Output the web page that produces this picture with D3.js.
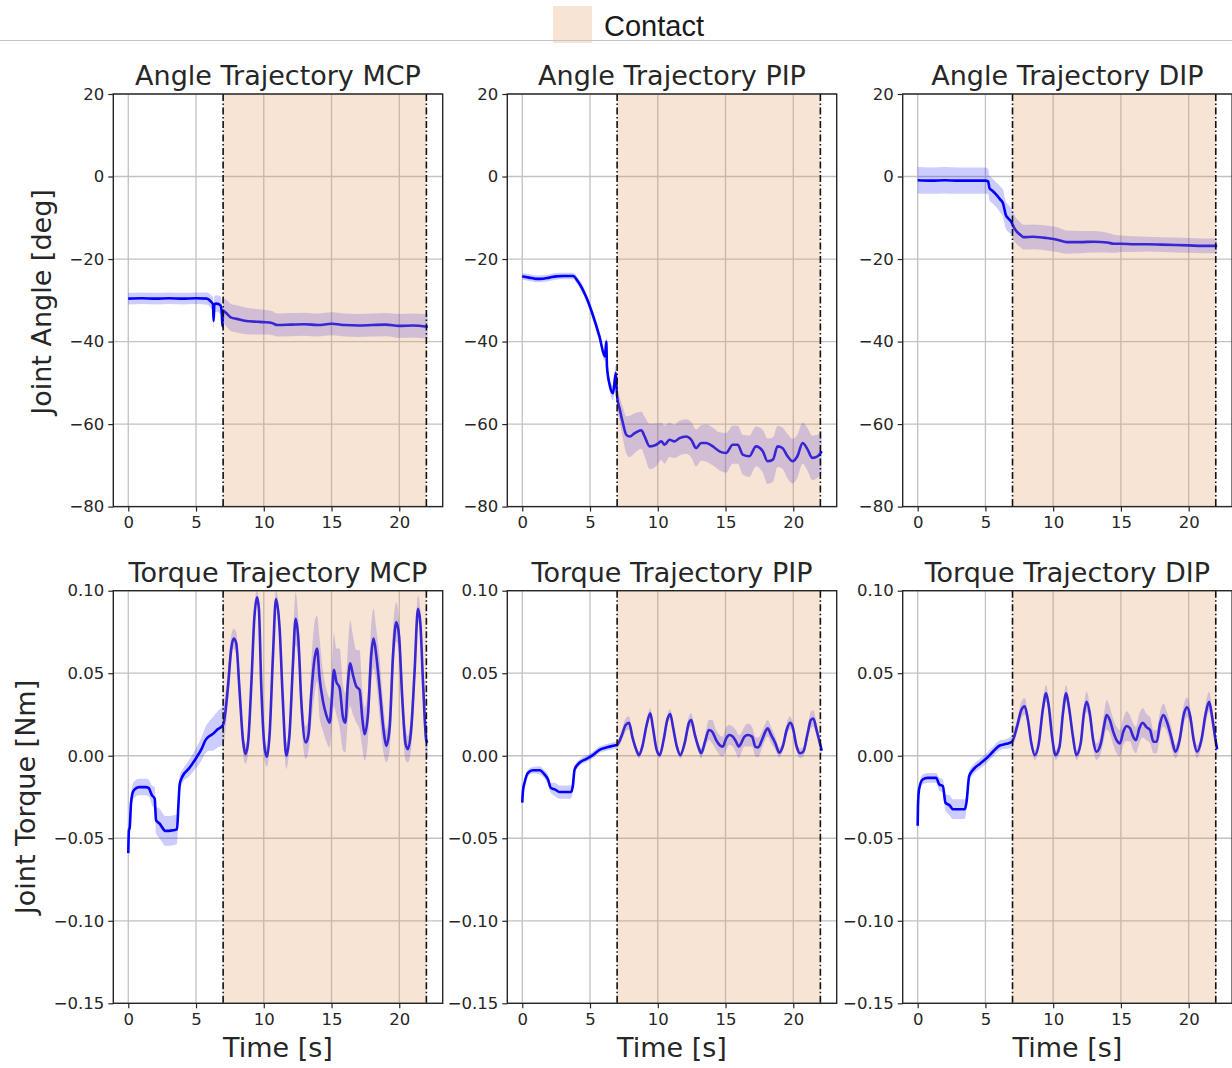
<!DOCTYPE html>
<html>
<head>
<meta charset="utf-8">
<script src="https://cdn.jsdelivr.net/npm/d3@7"></script>
<style>
  html, body { margin: 0; padding: 0; background: #fff; }
  svg { display: block; }
  text { font-family: "DejaVu Sans", sans-serif; fill: #262626; }
</style>
</head>
<body>
<svg id="fig" width="1232" height="1068"></svg>
<script>
// ---------------- data ----------------
// Joint angle, MCP (deg)
const tAngleMCP = [0, 1, 2, 3, 4, 5, 5.8, 6.1, 6.25, 6.3, 6.35, 6.5, 6.8, 6.9, 6.95, 7.0, 7.2, 7.6, 8.0, 8.7, 9.5, 10.0, 10.6, 11.0, 12.0, 13.0, 14.0, 15.0, 16.0, 17.0, 18.0, 19.0, 20.0, 21.0, 22.1];
const meanAngleMCP = [-29.6, -29.5, -29.6, -29.5, -29.6, -29.5, -29.6, -30.3, -31.0, -35.0, -31.0, -30.8, -31.2, -33.0, -36.3, -32.5, -33.0, -34.2, -34.5, -35.0, -35.2, -35.3, -35.5, -36.0, -35.9, -35.8, -36.0, -35.7, -36.0, -36.1, -36.0, -35.9, -36.2, -36.1, -36.4];
const sdAngleMCP = [1.4, 1.4, 1.4, 1.4, 1.4, 1.4, 1.5, 1.6, 1.8, 2.0, 2.0, 2.0, 2.2, 2.4, 2.8, 3.0, 3.2, 3.3, 3.3, 3.2, 3.1, 3.0, 2.9, 2.8, 2.8, 2.8, 2.8, 2.8, 2.8, 2.8, 2.8, 2.8, 2.9, 2.9, 3.0];

// Joint angle, PIP (deg)
const tAnglePIP = [0, 0.5, 1.0, 1.3, 2.0, 2.5, 3.0, 3.75, 4.1, 4.7, 5.2, 5.7, 6.1, 6.2, 6.25, 6.45, 6.7, 6.9, 7.0, 7.2, 7.43, 7.68, 7.93, 8.3, 8.79, 9.03, 9.4, 9.89, 10.26, 10.5, 10.87, 11.24, 11.6, 12.1, 12.47, 12.83, 13.2, 13.57, 14.06, 14.55, 15.04, 15.53, 15.9, 16.27, 16.76, 17.25, 17.75, 18.1, 18.5, 18.84, 19.2, 19.58, 19.95, 20.3, 20.69, 21.06, 21.4, 21.8, 22.1];
const meanAnglePIP = [-24.2, -24.5, -24.8, -24.8, -24.5, -24.2, -24.1, -24.1, -25.4, -29.1, -33.5, -38.8, -43.6, -40.0, -46.0, -50.5, -52.5, -47.6, -53.3, -56.5, -59.8, -62.6, -63.0, -62.2, -61.5, -63.0, -65.4, -65.0, -64.2, -65.0, -63.8, -64.2, -63.4, -63.0, -63.8, -65.8, -64.6, -64.6, -65.4, -66.6, -67.0, -65.0, -65.0, -67.4, -67.8, -65.4, -66.6, -69.0, -68.6, -65.4, -65.8, -67.8, -69.0, -67.8, -64.6, -66.2, -68.2, -67.8, -66.6];
const sdAnglePIP = [0.8, 0.8, 0.8, 0.8, 0.8, 0.8, 0.8, 0.8, 0.9, 1.0, 1.0, 1.1, 1.2, 1.2, 1.3, 1.5, 1.8, 2.0, 2.3, 3.0, 3.8, 4.5, 5.0, 4.8, 4.5, 4.8, 5.5, 5.2, 4.5, 4.6, 4.2, 4.0, 4.2, 4.2, 4.3, 4.5, 4.3, 4.5, 4.6, 4.6, 4.8, 4.6, 4.6, 4.8, 5.0, 4.8, 5.2, 5.5, 5.4, 5.0, 5.0, 5.4, 5.4, 5.2, 5.0, 5.2, 5.4, 5.2, 5.2];

// Joint angle, DIP (deg)
const tAngleDIP = [0, 1, 2, 3, 4, 5.0, 5.2, 5.3, 5.5, 5.8, 6.1, 6.3, 6.5, 6.7, 6.9, 7.1, 7.3, 7.6, 7.8, 8.5, 9.0, 9.5, 10.3, 11.0, 12.0, 13.0, 14.0, 14.5, 15.0, 16.0, 17.0, 18.0, 19.0, 20.0, 21.0, 22.1];
const meanAngleDIP = [-0.9, -1.0, -0.9, -1.0, -1.0, -1.0, -1.2, -2.8, -3.4, -4.4, -5.6, -6.5, -9.3, -10.2, -10.9, -12.3, -13.3, -14.2, -14.7, -14.6, -14.7, -14.9, -15.3, -15.9, -15.9, -15.8, -16.0, -16.3, -16.3, -16.4, -16.4, -16.5, -16.6, -16.7, -16.8, -16.8];
const sdAngleDIP = [3.2, 3.2, 3.2, 3.2, 3.2, 3.2, 3.0, 3.0, 3.0, 3.0, 3.2, 3.3, 3.3, 3.3, 3.2, 3.2, 3.1, 3.0, 3.0, 3.0, 3.0, 3.0, 3.0, 2.8, 2.7, 2.6, 2.4, 2.2, 2.0, 1.9, 1.8, 1.8, 1.8, 1.8, 1.8, 1.8];

// Joint torque, MCP (Nm)
const tTorqueMCP = [0, 0.05, 0.1, 0.2, 0.3, 0.45, 0.8, 1.3, 1.5, 1.75, 1.95, 2.05, 2.3, 2.55, 2.7, 3.0, 3.3, 3.6, 3.7, 3.8, 4.0, 4.5, 5.0, 5.4, 5.7, 6.0, 6.2, 6.6, 7.0,
  7.35, 7.6, 7.78, 7.97, 8.2, 8.47, 8.64, 8.83, 9.08, 9.3, 9.5, 9.64, 9.82, 10.06, 10.24, 10.43, 10.68, 10.9, 11.17, 11.4, 11.66, 11.9, 12.15, 12.35, 12.55, 12.77, 13.1, 13.3, 13.5, 13.75, 13.93, 14.12, 14.37, 14.6, 14.86, 15.03, 15.18, 15.35, 15.6, 15.85, 16.02, 16.2, 16.38, 16.58, 16.83, 17.07, 17.27, 17.44, 17.69, 17.93, 18.1, 18.3, 18.55, 18.85, 19.04, 19.29, 19.54, 19.78, 19.98, 20.22, 20.47, 20.64, 20.89, 21.13, 21.38, 21.55, 21.75, 22.0, 22.1];
const meanTorqueMCP = [-0.059, -0.045, -0.044, -0.029, -0.023, -0.0205, -0.019, -0.019, -0.0195, -0.024, -0.026, -0.039, -0.041, -0.044, -0.0455, -0.0455, -0.0452, -0.0445, -0.030, -0.017, -0.0125, -0.0075, -0.0015, 0.004, 0.0095, 0.012, 0.013, 0.016, 0.0187,
  0.041, 0.065, 0.071, 0.068, 0.041, 0.009, 0.001, 0.007, 0.043, 0.083, 0.096, 0.089, 0.041, 0.005, -0.0006, 0.013, 0.061, 0.095, 0.077, 0.035, 0.000, 0.013, 0.055, 0.083, 0.071, 0.033, 0.008, 0.013, 0.037, 0.059, 0.065, 0.047, 0.033, 0.025, 0.020, 0.035, 0.052, 0.045, 0.041, 0.023, 0.020, 0.043, 0.056, 0.049, 0.042, 0.040, 0.023, 0.013, 0.025, 0.061, 0.071, 0.061, 0.041, 0.015, 0.006, 0.017, 0.061, 0.081, 0.073, 0.035, 0.007, 0.004, 0.017, 0.051, 0.089, 0.081, 0.045, 0.009, 0.008];
const sdTorqueMCP = [0.003, 0.003, 0.004, 0.004, 0.005, 0.005, 0.005, 0.005, 0.005, 0.006, 0.007, 0.008, 0.009, 0.009, 0.009, 0.009, 0.009, 0.009, 0.007, 0.005, 0.004, 0.005, 0.006, 0.007, 0.008, 0.009, 0.010, 0.011, 0.012,
  0.010, 0.008, 0.006, 0.007, 0.010, 0.008, 0.006, 0.007, 0.010, 0.008, 0.004, 0.006, 0.010, 0.008, 0.006, 0.008, 0.012, 0.005, 0.008, 0.012, 0.008, 0.008, 0.014, 0.016, 0.012, 0.012, 0.010, 0.010, 0.018, 0.022, 0.020, 0.024, 0.018, 0.016, 0.015, 0.018, 0.022, 0.020, 0.024, 0.020, 0.018, 0.022, 0.026, 0.024, 0.022, 0.024, 0.018, 0.016, 0.016, 0.018, 0.018, 0.016, 0.018, 0.014, 0.010, 0.014, 0.016, 0.012, 0.010, 0.014, 0.010, 0.008, 0.012, 0.012, 0.008, 0.008, 0.012, 0.010, 0.010];

// Joint torque, PIP (Nm)
const tTorquePIP = [0, 0.05, 0.17, 0.42, 0.79, 1.28, 1.65, 1.9, 2.1, 2.4, 2.75, 3.2, 3.6, 3.73, 3.86, 4.2, 4.7, 5.2, 5.7, 6.2, 6.7, 7.0,
  7.31, 7.63, 7.88, 8.12, 8.42, 8.61, 8.86, 9.15, 9.45, 9.65, 9.89, 10.14, 10.43, 10.7, 10.92, 11.12, 11.41, 11.66, 11.98, 12.3, 12.47, 12.71, 13.03, 13.2, 13.52, 13.77, 14.01, 14.31, 14.56, 14.8, 15.05, 15.29, 15.54, 15.78, 15.98, 16.15, 16.4, 16.64, 16.96, 17.2, 17.4, 17.69, 17.94, 18.11, 18.36, 18.68, 18.97, 19.22, 19.51, 19.76, 19.95, 20.25, 20.49, 20.74, 21.06, 21.3, 21.48, 21.72, 22.1];
const meanTorquePIP = [-0.0284, -0.0214, -0.0164, -0.0104, -0.0088, -0.0088, -0.0114, -0.0144, -0.0194, -0.0204, -0.022, -0.022, -0.022, -0.0184, -0.0084, -0.0044, -0.002, 0.0004, 0.0036, 0.005, 0.006, 0.0066,
  0.0116, 0.0186, 0.020, 0.0116, 0.0035, 0.0004, 0.0055, 0.0176, 0.0257, 0.0166, 0.0045, 0.0004, 0.0095, 0.0217, 0.0253, 0.0176, 0.0055, 0.0004, 0.0075, 0.020, 0.0217, 0.0136, 0.0045, 0.0015, 0.0095, 0.0156, 0.0146, 0.0095, 0.0065, 0.0055, 0.0105, 0.0126, 0.0116, 0.0085, 0.0055, 0.0075, 0.0116, 0.0126, 0.0116, 0.0055, 0.005, 0.0095, 0.0146, 0.0166, 0.0126, 0.0075, 0.0019, 0.0055, 0.0156, 0.020, 0.0176, 0.0055, 0.0015, 0.0025, 0.0136, 0.0217, 0.0226, 0.0156, 0.003];
const sdTorquePIP = [0.002, 0.002, 0.002, 0.002, 0.002, 0.0025, 0.0025, 0.003, 0.003, 0.004, 0.004, 0.004, 0.004, 0.003, 0.002, 0.002, 0.002, 0.002, 0.002, 0.002, 0.002, 0.002,
  0.003, 0.004, 0.004, 0.003, 0.002, 0.002, 0.003, 0.003, 0.003, 0.003, 0.002, 0.002, 0.003, 0.003, 0.003, 0.003, 0.002, 0.002, 0.003, 0.004, 0.004, 0.003, 0.003, 0.003, 0.004, 0.006, 0.007, 0.006, 0.006, 0.006, 0.007, 0.006, 0.006, 0.007, 0.007, 0.006, 0.006, 0.007, 0.006, 0.006, 0.006, 0.005, 0.005, 0.005, 0.005, 0.004, 0.003, 0.003, 0.004, 0.004, 0.003, 0.003, 0.003, 0.003, 0.004, 0.005, 0.005, 0.004, 0.003];

// Joint torque, DIP (Nm)
const tTorqueDIP = [0, 0.02, 0.1, 0.37, 0.74, 1.36, 1.6, 1.86, 2.05, 2.35, 2.6, 3.0, 3.47, 3.6, 3.8, 4.1, 4.6, 5.1, 5.57, 6.06, 6.56, 6.96,
  7.33, 7.65, 7.9, 8.14, 8.39, 8.64, 8.94, 9.23, 9.48, 9.68, 9.92, 10.17, 10.47, 10.72, 10.96, 11.16, 11.46, 11.71, 12.03, 12.27, 12.47, 12.7, 12.95, 13.19, 13.52, 13.77, 13.94, 14.18, 14.43, 14.68, 14.93, 15.18, 15.42, 15.67, 15.91, 16.11, 16.36, 16.6, 16.9, 17.15, 17.4, 17.64, 17.89, 18.14, 18.39, 18.71, 19.03, 19.33, 19.63, 19.88, 20.12, 20.37, 20.62, 20.94, 21.26, 21.51, 21.73, 21.98, 22.1];
const meanTorqueDIP = [-0.0424, -0.0314, -0.0204, -0.0144, -0.0134, -0.0134, -0.0174, -0.0184, -0.0284, -0.030, -0.0324, -0.0324, -0.0324, -0.0284, -0.0124, -0.0084, -0.0048, -0.0014, 0.0026, 0.0062, 0.0072, 0.0085,
  0.0176, 0.0277, 0.030, 0.0216, 0.0075, 0.0004, 0.0075, 0.0277, 0.0378, 0.0297, 0.0115, 0.0004, 0.0055, 0.0257, 0.0378, 0.0297, 0.0115, 0.0004, 0.0075, 0.0257, 0.0327, 0.0257, 0.0095, 0.0024, 0.0075, 0.0186, 0.0247, 0.0216, 0.0146, 0.0095, 0.0075, 0.0146, 0.018, 0.0166, 0.0115, 0.0095, 0.0166, 0.020, 0.0172, 0.0156, 0.0085, 0.0085, 0.0196, 0.0247, 0.0206, 0.0115, 0.0024, 0.0095, 0.0247, 0.0293, 0.0236, 0.0095, 0.0024, 0.0095, 0.0257, 0.0327, 0.0236, 0.0095, 0.004];
const sdTorqueDIP = [0.002, 0.002, 0.002, 0.003, 0.003, 0.003, 0.004, 0.004, 0.005, 0.006, 0.006, 0.006, 0.006, 0.005, 0.003, 0.003, 0.003, 0.003, 0.003, 0.003, 0.003, 0.004,
  0.004, 0.005, 0.005, 0.004, 0.003, 0.003, 0.004, 0.005, 0.005, 0.004, 0.003, 0.003, 0.004, 0.005, 0.005, 0.004, 0.003, 0.003, 0.004, 0.005, 0.006, 0.005, 0.005, 0.005, 0.006, 0.008, 0.009, 0.008, 0.008, 0.008, 0.008, 0.008, 0.009, 0.008, 0.008, 0.008, 0.009, 0.009, 0.008, 0.008, 0.007, 0.007, 0.007, 0.007, 0.006, 0.006, 0.004, 0.005, 0.006, 0.006, 0.005, 0.004, 0.004, 0.004, 0.006, 0.006, 0.005, 0.004, 0.004];

// contact window (s)
const contactStart = 7.0;
const contactEnd = 22.0;

// axis ticks
const timeTicks = [0, 5, 10, 15, 20];
const angleTicks = [-80, -60, -40, -20, 0, 20];
const torqueTicks = [-0.15, -0.10, -0.05, 0.00, 0.05, 0.10];

const joints = ["MCP", "PIP", "DIP"];

// ---------------- layout ----------------
const svg = d3.select("#fig");
const panelLeft = [113.3, 507.3, 902.7];
const panelW = 329.4;
const panelH = 412.6;
const rowTop = [94, 590.7];

const CONTACT_RGB = "rgb(223,147,83)";
const CONTACT_ALPHA = 0.25;

const rows = [
  {
    kind: "Angle", domain: [-80, 20], ticks: angleTicks, fmt: d3.format("d"),
    series: [
      [tAngleMCP, meanAngleMCP, sdAngleMCP],
      [tAnglePIP, meanAnglePIP, sdAnglePIP],
      [tAngleDIP, meanAngleDIP, sdAngleDIP]
    ]
  },
  {
    kind: "Torque", domain: [-0.15, 0.10], ticks: torqueTicks, fmt: d3.format(".2f"),
    series: [
      [tTorqueMCP, meanTorqueMCP, sdTorqueMCP],
      [tTorquePIP, meanTorquePIP, sdTorquePIP],
      [tTorqueDIP, meanTorqueDIP, sdTorqueDIP]
    ]
  }
];

const x = d3.scaleLinear().domain([-1.105, 23.205]).range([0, panelW]);

rows.forEach((row, r) => {
  const y = d3.scaleLinear().domain(row.domain).range([panelH, 0]);
  row.series.forEach(([ts, ms, ss], c) => {
    const g = svg.append("g")
      .attr("transform", `translate(${panelLeft[c]},${rowTop[r]})`);
    const pts = ts.map((t, i) => ({ t, m: ms[i], s: ss[i] }));

    const clipId = `clip-${r}-${c}`;
    g.append("clipPath").attr("id", clipId)
      .append("rect").attr("width", panelW).attr("height", panelH);

    // grid
    const grid = g.append("g").attr("stroke", "#c2c2c2").attr("stroke-width", 1.3);
    grid.selectAll("line.vx").data(timeTicks).join("line")
      .attr("x1", d => x(d)).attr("x2", d => x(d))
      .attr("y1", 0).attr("y2", panelH);
    grid.selectAll("line.hy").data(row.ticks).join("line")
      .attr("x1", 0).attr("x2", panelW)
      .attr("y1", d => y(d)).attr("y2", d => y(d));

    const plot = g.append("g").attr("clip-path", `url(#${clipId})`);

    // std band
    plot.append("path")
      .datum(pts)
      .attr("fill", "blue").attr("fill-opacity", 0.2)
      .attr("d", d3.area().curve(d3.curveMonotoneX)
        .x(d => x(d.t)).y0(d => y(d.m - d.s)).y1(d => y(d.m + d.s)));

    // mean trajectory
    plot.append("path")
      .datum(pts)
      .attr("fill", "none").attr("stroke", "#0000ff")
      .attr("stroke-width", 2.6).attr("stroke-linejoin", "round")
      .attr("d", d3.line().curve(d3.curveMonotoneX)
        .x(d => x(d.t)).y(d => y(d.m)));

    // contact window shading
    plot.append("rect")
      .attr("x", x(contactStart)).attr("width", x(contactEnd) - x(contactStart))
      .attr("y", 0).attr("height", panelH)
      .attr("fill", CONTACT_RGB).attr("fill-opacity", CONTACT_ALPHA);

    // contact boundaries
    g.selectAll("line.cb").data([contactStart, contactEnd]).join("line")
      .attr("x1", d => x(d)).attr("x2", d => x(d))
      .attr("y1", 0).attr("y2", panelH)
      .attr("stroke", "#111").attr("stroke-width", 1.6)
      .attr("stroke-dasharray", "7,2.5,1.5,2.5");

    // axes
    const ax = g.append("g").attr("transform", `translate(0,${panelH})`)
      .call(d3.axisBottom(x).tickValues(timeTicks).tickSize(5).tickPadding(5).tickFormat(d3.format("d")));
    const ay = g.append("g")
      .call(d3.axisLeft(y).tickValues(row.ticks).tickSize(5).tickPadding(4).tickFormat(row.fmt));
    [ax, ay].forEach(a => {
      a.select(".domain").remove();
      a.selectAll(".tick line").attr("stroke", "#262626").attr("stroke-width", 1.2);
      a.selectAll(".tick text").attr("fill", "#262626")
        .style("font-family", "DejaVu Sans").style("font-size", "16.5px");
    });

    // spines
    g.append("rect").attr("width", panelW).attr("height", panelH)
      .attr("fill", "none").attr("stroke", "#262626").attr("stroke-width", 1.4);

    // title
    g.append("text")
      .attr("x", panelW / 2).attr("y", -9)
      .attr("text-anchor", "middle")
      .style("font-size", "27px")
      .text(`${row.kind} Trajectory ${joints[c]}`);

    if (r === 1) {
      g.append("text")
        .attr("x", panelW / 2).attr("y", panelH + 54)
        .attr("text-anchor", "middle")
        .style("font-size", "27px")
        .text("Time [s]");
    }
  });
});

// y-axis labels
svg.append("text")
  .attr("transform", "translate(51,302) rotate(-90)")
  .attr("text-anchor", "middle")
  .style("font-size", "27px")
  .text("Joint Angle [deg]");
svg.append("text")
  .attr("transform", "translate(35,797) rotate(-90)")
  .attr("text-anchor", "middle")
  .style("font-size", "27px")
  .text("Joint Torque [Nm]");

// legend
svg.append("rect")
  .attr("x", 553).attr("y", 6).attr("width", 39).attr("height", 37)
  .attr("fill", CONTACT_RGB).attr("fill-opacity", CONTACT_ALPHA);
svg.append("line")
  .attr("x1", 0).attr("x2", 1232).attr("y1", 40.5).attr("y2", 40.5)
  .attr("stroke", "#c4c4c4").attr("stroke-width", 1);
svg.append("text")
  .attr("x", 604).attr("y", 36)
  .style("font-family", "Liberation Sans, Arial, sans-serif")
  .style("font-size", "29px")
  .style("fill", "#1a1a1a")
  .text("Contact");
</script>
</body>
</html>
